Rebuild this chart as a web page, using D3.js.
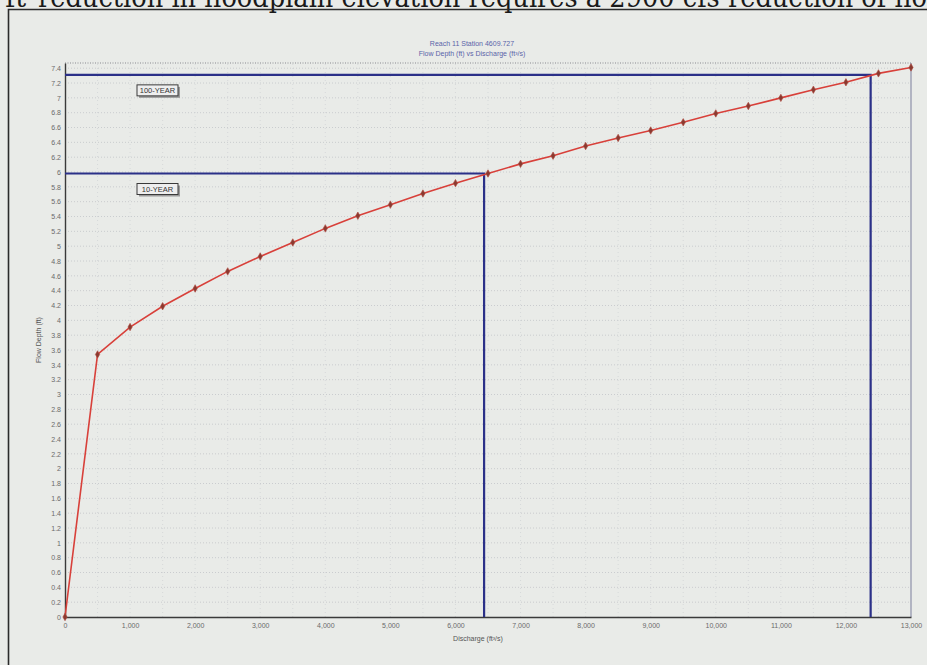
<!DOCTYPE html>
<html>
<head>
<meta charset="utf-8">
<script src="https://cdn.jsdelivr.net/npm/d3@7"></script>
<style>
  html, body { margin: 0; padding: 0; background: #e9ebe8; }
  svg { display: block; }
</style>
</head>
<body>
<svg id="chart" width="927" height="665"></svg>
<script>
// rating curve
const discharge = [0, 500, 1000, 1500, 2000, 2500, 3000, 3500, 4000, 4500, 5000, 5500, 6000, 6500,
  7000, 7500, 8000, 8500, 9000, 9500, 10000, 10500, 11000, 11500, 12000, 12500, 13000];
const depth = [0, 3.54, 3.91, 4.19, 4.43, 4.66, 4.86, 5.05, 5.24, 5.41, 5.56, 5.71, 5.85, 5.98,
  6.11, 6.22, 6.35, 6.46, 6.56, 6.67, 6.79, 6.89, 7.0, 7.11, 7.21, 7.33, 7.41];

// design events
const eventNames = ["100-YEAR", "10-YEAR"];
const eventFlows = [12380, 6440];
const eventDepths = [7.31, 5.98];

const xTicks = [0, 1000, 2000, 3000, 4000, 5000, 6000, 7000, 8000, 9000, 10000, 11000, 12000, 13000];
const xGrid = [500, 1500, 2500, 3500, 4500, 5500, 6500, 7500, 8500, 9500, 10500, 11500, 12500];
const yTicks = [0, 0.2, 0.4, 0.6, 0.8, 1, 1.2, 1.4, 1.6, 1.8, 2, 2.2, 2.4, 2.6, 2.8, 3, 3.2, 3.4, 3.6,
  3.8, 4, 4.2, 4.4, 4.6, 4.8, 5, 5.2, 5.4, 5.6, 5.8, 6, 6.2, 6.4, 6.6, 6.8, 7, 7.2, 7.4];

const titleLines = ["Reach 11 Station 4609.727", "Flow Depth (ft) vs Discharge (ft\u00b3/s)"];
const xLabel = "Discharge (ft\u00b3/s)";
const yLabel = "Flow Depth (ft)";

const svg = d3.select("#chart");

// scanned page text above the figure (cut off by the crop, as in the scan)
svg.append("text")
  .attr("x", 38).attr("y", 7)
  .attr("font-family", "'DejaVu Serif', 'Liberation Serif', serif")
  .attr("font-size", 27)
  .attr("fill", "#1a1a1a")
  .attr("textLength", 889)
  .attr("lengthAdjust", "spacingAndGlyphs")
  .text("reduction in floodplain elevation requires a 2900 cfs reduction of flo");
svg.append("text")
  .attr("x", 26).attr("y", 7)
  .attr("text-anchor", "end")
  .attr("font-family", "'DejaVu Serif', 'Liberation Serif', serif")
  .attr("font-size", 27)
  .attr("fill", "#1a1a1a")
  .text("ft");

// figure frame
svg.append("path")
  .attr("d", "M8.5,665 L8.5,9.5 L927,9.5")
  .attr("fill", "none")
  .attr("stroke", "#2b2b2b")
  .attr("stroke-width", 1.6);

const x = d3.scaleLinear().domain([0, 13000]).range([65, 911]);
const y = d3.scaleLinear().domain([0, 7.47]).range([617, 63]);

const g = svg.append("g");

// grid
g.selectAll("line.hgrid").data(yTicks.slice(1)).join("line")
  .attr("class", "hgrid")
  .attr("x1", x(0)).attr("x2", x(13000))
  .attr("y1", d => y(d)).attr("y2", d => y(d))
  .attr("stroke", "#c2c4c8").attr("stroke-width", 0.8)
  .attr("stroke-dasharray", "1,2");
g.selectAll("line.vgrid").data(xTicks.slice(1, -1).concat(xGrid)).join("line")
  .attr("class", "vgrid")
  .attr("y1", y(0)).attr("y2", y.range()[1])
  .attr("x1", d => x(d)).attr("x2", d => x(d))
  .attr("stroke", "#cfd1d4").attr("stroke-width", 0.7)
  .attr("stroke-dasharray", "1,3");

// plot border
g.append("line")
  .attr("x1", x(0)).attr("x2", x(13000))
  .attr("y1", y.range()[1]).attr("y2", y.range()[1])
  .attr("stroke", "#8a8a90").attr("stroke-width", 1.2)
  .attr("stroke-dasharray", "1,1.5");
g.append("line")
  .attr("x1", x(13000)).attr("x2", x(13000))
  .attr("y1", y.range()[1]).attr("y2", y(0))
  .attr("stroke", "#8d8fa8").attr("stroke-width", 1.2);

// axes
const xAxis = g.append("g")
  .attr("transform", `translate(0,${y(0)})`)
  .call(d3.axisBottom(x).tickValues(xTicks).tickSize(0).tickPadding(6)
    .tickFormat(d3.format(",")));
const yAxis = g.append("g")
  .attr("transform", `translate(${x(0)},0)`)
  .call(d3.axisLeft(y).tickValues(yTicks).tickSize(0).tickPadding(4)
    .tickFormat(d => d3.format("~g")(+d.toFixed(1))));
[xAxis, yAxis].forEach(a => {
  a.select(".domain").attr("stroke", "#3a3a3a").attr("stroke-width", 1.4);
  a.selectAll("text")
    .attr("fill", "#6a6a6a")
    .attr("font-family", "Arial, 'Liberation Sans', sans-serif")
    .attr("font-size", 7);
});

// event lines
eventFlows.forEach((q, i) => {
  g.append("path")
    .attr("d", `M${x(0)},${y(eventDepths[i])} H${x(q)} V${y(0)}`)
    .attr("fill", "none")
    .attr("stroke", "#2b3088")
    .attr("stroke-width", 2.2);
});

// event labels
const labelRows = [y(eventDepths[0]) + 10, y(eventDepths[1]) + 10];
eventNames.forEach((name, i) => {
  const lg = g.append("g").attr("transform", `translate(137,${labelRows[i]})`);
  lg.append("rect").attr("x", 2).attr("y", 2).attr("width", 41).attr("height", 11)
    .attr("fill", "#9a9a9a");
  lg.append("rect").attr("width", 41).attr("height", 11)
    .attr("fill", "#eeeeee").attr("stroke", "#3a3a3a").attr("stroke-width", 1);
  lg.append("text").attr("x", 20.5).attr("y", 8.3)
    .attr("text-anchor", "middle")
    .attr("font-family", "Arial, 'Liberation Sans', sans-serif")
    .attr("font-size", 7.5)
    .attr("fill", "#333")
    .text(name);
});

// rating curve
const pts = discharge.map((q, i) => [q, depth[i]]);
g.append("path")
  .datum(pts)
  .attr("fill", "none")
  .attr("stroke", "#d8403a")
  .attr("stroke-width", 1.6)
  .attr("d", d3.line().x(d => x(d[0])).y(d => y(d[1])));
g.selectAll("path.mark").data(pts).join("path")
  .attr("class", "mark")
  .attr("transform", d => `translate(${x(d[0])},${y(d[1])})`)
  .attr("d", d3.symbol(d3.symbolDiamond, 16))
  .attr("fill", "#8a3a30")
  .attr("stroke", "#b04a40")
  .attr("stroke-width", 0.6);

// titles
titleLines.forEach((t, i) => {
  svg.append("text")
    .attr("x", 472).attr("y", 46 + i * 10)
    .attr("text-anchor", "middle")
    .attr("font-family", "Arial, 'Liberation Sans', sans-serif")
    .attr("font-size", 7)
    .attr("fill", "#5a64a8")
    .text(t);
});

svg.append("text")
  .attr("x", 478).attr("y", 641)
  .attr("text-anchor", "middle")
  .attr("font-family", "Arial, 'Liberation Sans', sans-serif")
  .attr("font-size", 7)
  .attr("fill", "#555")
  .text(xLabel);

svg.append("text")
  .attr("transform", "translate(41,340) rotate(-90)")
  .attr("text-anchor", "middle")
  .attr("font-family", "Arial, 'Liberation Sans', sans-serif")
  .attr("font-size", 7)
  .attr("fill", "#555")
  .text(yLabel);
</script>
</body>
</html>
